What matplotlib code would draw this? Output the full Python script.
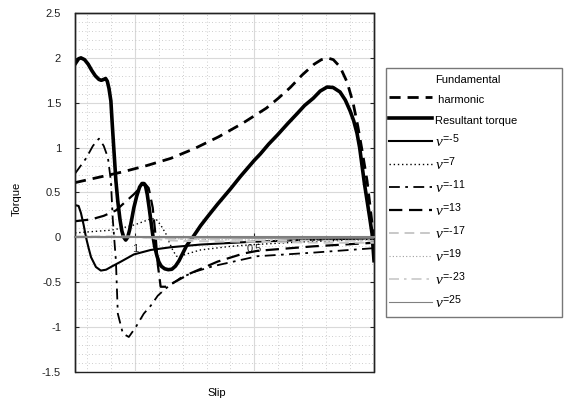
import matplotlib
matplotlib.use('Agg')
import matplotlib.pyplot as plt
from matplotlib.lines import Line2D
from matplotlib.ticker import FormatStrFormatter, MultipleLocator

plt.rcParams['font.family'] = ['Liberation Sans', 'DejaVu Sans']
plt.rcParams['axes.unicode_minus'] = False
plt.rcParams['mathtext.fontset'] = 'custom'
plt.rcParams['mathtext.rm'] = 'Liberation Sans'
plt.rcParams['mathtext.it'] = 'Liberation Serif:italic'

# fundamental harmonic torque
s_fund = [1.25, 1.15, 1.05, 0.95, 0.85, 0.75, 0.65, 0.55, 0.45, 0.4, 0.35, 0.3, 0.25,
          0.22, 0.195, 0.17, 0.142, 0.1125, 0.0875, 0.067, 0.05, 0.029, 0.017, 0.004, 0.0]
t_fund = [0.61, 0.67, 0.73, 0.80, 0.88, 0.99, 1.12, 1.27, 1.44, 1.55, 1.67, 1.81, 1.93,
          1.98, 2.0, 1.98, 1.9, 1.73, 1.5, 1.23, 0.97, 0.63, 0.36, 0.06, -0.02]

# resultant torque
s_res = [1.25, 1.235, 1.225, 1.21, 1.195, 1.18, 1.165, 1.15, 1.14, 1.13, 1.122, 1.115, 1.108,
         1.1, 1.094, 1.088, 1.079, 1.071, 1.062, 1.054, 1.046, 1.038, 1.03, 1.022, 1.013,
         1.004, 0.992, 0.98, 0.97, 0.962, 0.955, 0.948, 0.94, 0.932, 0.925, 0.917, 0.908,
         0.9, 0.89, 0.875, 0.86, 0.845, 0.83, 0.815, 0.8, 0.785, 0.77, 0.758, 0.74, 0.725,
         0.69, 0.654, 0.6, 0.558, 0.5, 0.475, 0.44, 0.404, 0.36, 0.321, 0.29, 0.254, 0.225,
         0.196, 0.171, 0.142, 0.12, 0.1, 0.085, 0.071, 0.06, 0.05, 0.04, 0.029, 0.018, 0.008,
         0.0]
t_res = [1.93, 1.99, 2.0, 1.98, 1.93, 1.86, 1.80, 1.76, 1.75, 1.76, 1.77, 1.74, 1.66,
         1.52, 1.25, 1.0, 0.63, 0.40, 0.2, 0.07, 0.0, -0.03, 0.0, 0.08, 0.2,
         0.33, 0.46, 0.56, 0.6, 0.6, 0.57, 0.48, 0.33, 0.17, 0.03, -0.1, -0.2,
         -0.27, -0.32, -0.35, -0.36, -0.355, -0.32, -0.26, -0.18, -0.1, -0.04, 0.0, 0.07, 0.13,
         0.25, 0.37, 0.54, 0.68, 0.86, 0.93, 1.04, 1.14, 1.27, 1.38, 1.47, 1.55, 1.63,
         1.675, 1.67, 1.62, 1.53, 1.41, 1.3, 1.16, 1.0, 0.8, 0.6, 0.41, 0.22, 0.04,
         -0.26]

# harmonic torques
s_m5 = [1.25, 1.235, 1.225, 1.214, 1.204, 1.193, 1.183, 1.1625, 1.142, 1.12, 1.1, 1.058,
        1.004, 0.933, 0.85, 0.725, 0.517, 0.308, 0.0]
t_m5 = [0.36, 0.35, 0.27, 0.14, 0.0, -0.12, -0.22, -0.33, -0.37, -0.36, -0.33, -0.27,
        -0.19, -0.14, -0.11, -0.08, -0.05, -0.03, -0.01]

s_p7 = [1.25, 1.2, 1.1, 1.06, 1.0, 0.96, 0.93, 0.91, 0.89, 0.87, 0.86, 0.84, 0.825, 0.81,
        0.79, 0.725, 0.6, 0.5, 0.3, 0.0]
t_p7 = [0.05, 0.06, 0.08, 0.10, 0.14, 0.18, 0.21, 0.2, 0.13, 0.04, -0.03, -0.15, -0.21, -0.22,
        -0.19, -0.14, -0.10, -0.08, -0.05, -0.02]

s_m11 = [1.25, 1.204, 1.175, 1.15, 1.13, 1.1125, 1.1, 1.092, 1.079, 1.071, 1.05, 1.025,
         0.996, 0.9625, 0.933, 0.904, 0.871, 0.808, 0.746, 0.671, 0.4875, 0.254, 0.0]
t_m11 = [0.71, 0.88, 1.02, 1.1, 1.02, 0.89, 0.63, 0.2, -0.26, -0.85, -1.07, -1.11,
         -1.0, -0.85, -0.76, -0.65, -0.57, -0.45, -0.38, -0.32, -0.21, -0.17, -0.12]

s_p13 = [1.25, 1.183, 1.13, 1.079, 1.046, 1.004, 0.975, 0.958, 0.942, 0.925, 0.9125, 0.904,
         0.892, 0.871, 0.821, 0.767, 0.654, 0.546, 0.4875, 0.254, 0.0]
t_p13 = [0.18, 0.2, 0.24, 0.3, 0.38, 0.48, 0.56, 0.6, 0.55, 0.33, 0.0, -0.3,
         -0.55, -0.55, -0.48, -0.4, -0.27, -0.18, -0.15, -0.1, -0.06]

s_m17 = [1.25, 1.0, 0.92, 0.88, 0.8, 0.5, 0.2, 0.0]
t_m17 = [0.01, 0.01, -0.01, -0.03, -0.04, -0.05, -0.06, -0.06]

s_p19 = [1.25, 1.0, 0.9, 0.8, 0.5, 0.0]
t_p19 = [0.01, 0.01, 0.0, -0.02, -0.03, -0.03]

s_m23 = [1.25, 1.0, 0.9, 0.8, 0.5, 0.0]
t_m23 = [0.0, 0.0, -0.01, -0.02, -0.03, -0.04]

s_p25 = [1.25, 1.0, 0.5, 0.0]
t_p25 = [0.0, 0.0, -0.01, -0.01]

fig = plt.figure(figsize=(5.68, 4.01), dpi=100)
ax = fig.add_axes([75 / 568, 1 - 372 / 401, 299 / 568, 359 / 401])

lines = []
lines += ax.plot(s_fund, t_fund, color='k', lw=2.0, dashes=(4, 2.5), label=' harmonic')
lines += ax.plot(s_res, t_res, color='k', lw=2.6, label='Resultant torque')
lines += ax.plot(s_m5, t_m5, color='k', lw=1.5, label=r'$\nu^{\text{=-5}}$')
lines += ax.plot(s_p7, t_p7, color='k', lw=1.0, ls=(0, (1, 2)), label=r'$\nu^{\text{=7}}$')
lines += ax.plot(s_m11, t_m11, color='k', lw=1.3, ls=(0, (6, 3, 1.5, 3)), label=r'$\nu^{\text{=-11}}$')
lines += ax.plot(s_p13, t_p13, color='k', lw=1.6, ls=(0, (6, 3)), label=r'$\nu^{\text{=13}}$')
lines += ax.plot(s_m17, t_m17, color='#c8c8c8', lw=1.4, ls=(0, (5, 3)), label=r'$\nu^{\text{=-17}}$')
lines += ax.plot(s_p19, t_p19, color='#a0a0a0', lw=0.8, ls=(0, (1, 2)), label=r'$\nu^{\text{=19}}$')
lines += ax.plot(s_m23, t_m23, color='#c8c8c8', lw=1.2, ls=(0, (6, 3, 1.5, 3)), label=r'$\nu^{\text{=-23}}$')
lines += ax.plot(s_p25, t_p25, color='#808080', lw=0.8, label=r'$\nu^{\text{=25}}$')

ax.set_xlim(1.25, 0)
ax.set_ylim(-1.5, 2.5)

ax.set_xticks([1, 0.5])
ax.xaxis.set_minor_locator(MultipleLocator(0.1))
ax.yaxis.set_major_locator(MultipleLocator(0.5))
ax.yaxis.set_minor_locator(MultipleLocator(0.1))
ax.xaxis.set_major_formatter(FormatStrFormatter('%g'))
ax.yaxis.set_major_formatter(FormatStrFormatter('%g'))

ax.grid(which='major', color='#d9d9d9', lw=0.8)
ax.grid(which='minor', color='#bdbdbd', ls=(0, (1, 3)), lw=0.6)
ax.set_axisbelow(True)

# horizontal axis crosses at zero, plot area keeps a black frame
ax.spines['bottom'].set_position(('data', 0))
ax.spines['bottom'].set_color('#808080')
ax.spines['bottom'].set_linewidth(1.5)
for side in ['left', 'right', 'top']:
    ax.spines[side].set_color('#222222')
    ax.spines[side].set_linewidth(1.0)
ax.patch.set_edgecolor('#222222')
ax.patch.set_linewidth(1.0)

ax.tick_params(axis='y', which='major', direction='in', length=3, left=True, right=True,
               labelsize=8, pad=10, colors='#222222')
ax.tick_params(axis='x', which='major', direction='in', length=3, labelsize=8, pad=5,
               colors='#222222')
ax.tick_params(which='minor', length=0)

ax.set_xlabel('Slip', fontsize=8)
ax.set_ylabel('Torque', fontsize=8)
ax.xaxis.set_label_coords(0.475, -0.045)
ax.yaxis.set_label_coords(-0.177, 0.482)

# the fundamental label is split over two legend rows, first row has no line
blank = Line2D([], [], color='none')
leg = ax.legend([blank] + lines, ['Fundamental'] + [l.get_label() for l in lines],
                loc='upper left', mode='expand',
                bbox_to_anchor=(386 / 568, 1 - 318 / 401, 176 / 568, 250 / 401),
                bbox_transform=fig.transFigure, fontsize=8, frameon=True, fancybox=False,
                edgecolor='#555555', handlelength=3.8, handleheight=1.95, handletextpad=0.3,
                labelspacing=0.3, borderpad=0.3, borderaxespad=0)
leg.get_frame().set_linewidth(1.0)
for txt in leg.get_texts()[3:]:
    txt.set_fontsize(11)

fig.savefig('out.png', dpi=100)
